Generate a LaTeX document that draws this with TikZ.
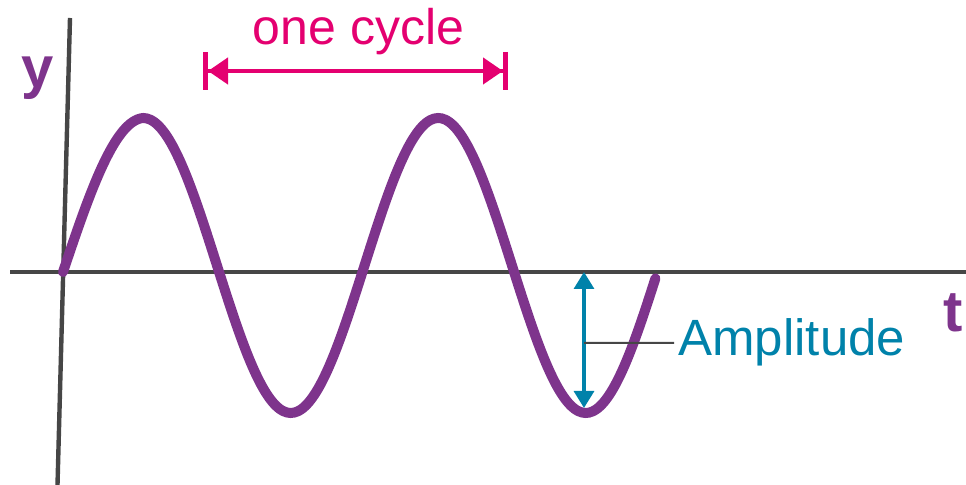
\documentclass[tikz,border=0pt]{standalone}
\usepackage{fontspec}
\setmainfont{Liberation Sans}
\usetikzlibrary{arrows.meta}
\definecolor{wavepurple}{RGB}{126,52,140}
\definecolor{cyclepink}{RGB}{228,0,112}
\definecolor{ampteal}{RGB}{0,130,170}
\definecolor{axisgray}{RGB}{70,70,70}

\begin{document}
\begin{tikzpicture}[
    x=0.5pt, y=-0.5pt,
    axisline/.style={draw=axisgray, line width=2.2pt},
    wave/.style={draw=wavepurple, line width=5pt, line cap=round},
    cycarrow/.style={draw=cyclepink, line width=2.2pt,
                     {Bar[width=19pt,line width=2.5pt]Triangle[length=10pt,width=13pt]}-{Triangle[length=10pt,width=13pt]Bar[width=19pt,line width=2.5pt]}},
    amparrow/.style={draw=ampteal, line width=1.6pt,
                     {Triangle[length=8.5pt,width=10pt]}-{Triangle[length=8.5pt,width=10pt]}},
    leader/.style={draw=axisgray, line width=1pt},
    axlabel/.style={text=wavepurple, font=\fontsize{29}{29}\selectfont\bfseries, inner sep=0pt}
  ]
    \useasboundingbox (0,0) rectangle (966,485);

    % axes
    \coordinate (ytop)   at (70,18);
    \coordinate (ybot)   at (57.5,485);
    \coordinate (xleft)  at (10,272);
    \coordinate (xright) at (966,272);
    \draw[axisline] (ybot) -- (ytop);
    \draw[axisline] (xleft) -- (xright);
    \node[axlabel, anchor=base] (ylbl) at (38,88) {y};
    \node[axlabel, anchor=base] (tlbl) at (953,332) {t};

    % the wave (first rise a little stretched)
    \draw[wave] plot[variable=\t, domain=0:715, samples=160, smooth]
      ({63+\t/1.2203+6.5*min(1,\t/90)}, {265.5-147.5*sin(\t)+6.5*(1-min(1,\t/90))});

    % one cycle
    \coordinate (cycleL) at (203,71);
    \coordinate (cycleR) at (508,71);
    \draw[cycarrow] (cycleL) -- (cycleR);
    \node[text=cyclepink, font=\fontsize{25}{25}\selectfont, anchor=base]
      (cyclbl) at (358.5,45) {one cycle};

    % amplitude
    \coordinate (amptop) at (584,272);
    \coordinate (ampbot) at (584,408);
    \coordinate (ampmid) at (584,343);
    \draw[amparrow] (amptop) -- (ampbot);
    \node[text=ampteal, font=\fontsize{25.5}{25.5}\selectfont, anchor=base west, inner sep=2pt]
      (amplbl) at (674,356) {Amplitude};
    \draw[leader] (ampmid) -- (amplbl.west);
\end{tikzpicture}
\end{document}
